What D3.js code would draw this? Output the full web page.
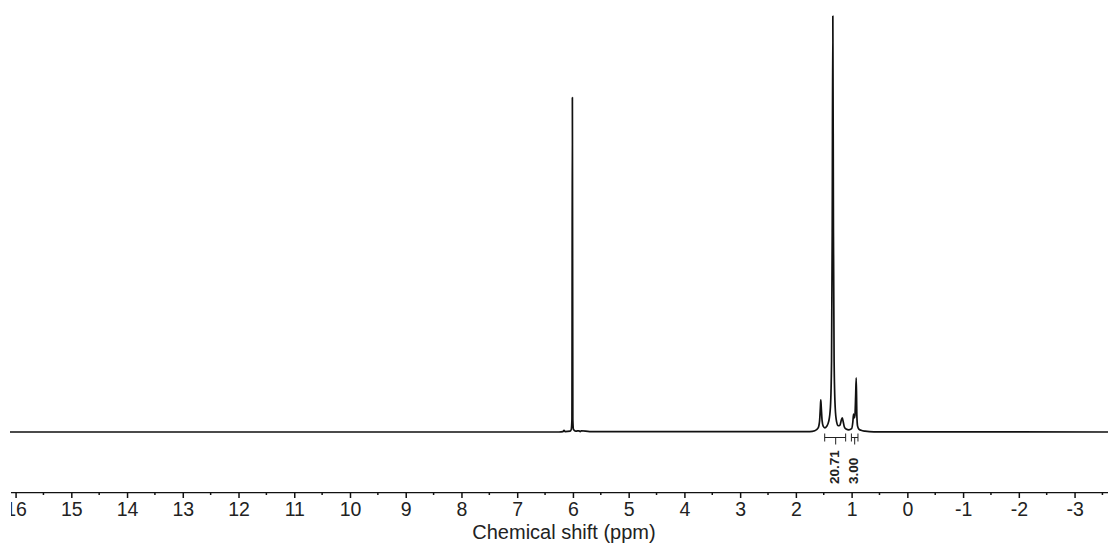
<!DOCTYPE html>
<html>
<head>
<meta charset="utf-8">
<script src="https://cdn.jsdelivr.net/npm/d3@7"></script>
<style>
  body { margin: 0; background: #fff; }
  svg { display: block; font-family: Arial, "Liberation Sans", sans-serif; }
</style>
</head>
<body>
<svg id="my-svg" width="1108" height="546"></svg>
<script>
// spectrum trace (ppm, relative intensity)
const shiftPpm = [16.1, 6.25, 6.18, 6.16, 6.14, 6.05, 6.03, 6.018, 6.01, 6.002, 5.99, 5.95, 5.89, 5.87, 5.85, 5.7,
                  1.75, 1.66, 1.6, 1.575, 1.56, 1.553, 1.545, 1.53, 1.51, 1.48, 1.45, 1.41, 1.38, 1.36, 1.348, 1.337,
                  1.326, 1.314, 1.295, 1.27, 1.24, 1.21, 1.19, 1.168, 1.15, 1.13, 1.1, 1.05, 1.0, 0.978, 0.965,
                  0.952, 0.94, 0.928, 0.917, 0.906, 0.893, 0.87, 0.83, 0.76, 0.6, -3.6];
const intensity = [0, 0, 0.1, 0.4, 0.1, 0.2, 0.6, 3, 80.4, 3, 0.6, 0.2, 0.3, 0.1, 0.3, 0.1,
                   0.1, 0.3, 1.0, 2.6, 6.0, 7.7, 6.0, 2.8, 1.4, 1.0, 1.3, 2.6, 6, 17, 48, 100,
                   48, 17, 6, 2.5, 1.5, 1.6, 2.6, 3.4, 2.4, 1.2, 0.7, 0.5, 0.8, 2.4, 4.3,
                   3.4, 4.0, 8.5, 13.0, 4.0, 1.4, 0.7, 0.4, 0.2, 0.05, 0];

// integration regions
const integralFrom  = [1.483, 1.004];
const integralTo    = [1.107, 0.886];
const integralMid   = [1.286, 0.945];
const integralLabel = ["20.71", "3.00"];

const majorTicks = d3.range(16, -4, -1);
const minorTicks = d3.range(15.5, -4, -1);

const svg = d3.select("#my-svg"),
      left = 10, right = 1108,
      baseY = 432, topY = 16, axisY = 492;

const xScale = d3.scaleLinear().domain([16.1, -3.6]).range([left, right]),
      yScale = d3.scaleLinear().domain([0, 100]).range([baseY, topY]);

svg.append("defs").append("clipPath").attr("id", "plot-clip")
    .append("rect").attr("x", left + 1).attr("y", 0).attr("width", right - left).attr("height", 546);

// spectrum
const points = shiftPpm.map((d, i) => [d, intensity[i]]);
svg.append("path")
    .datum(points)
    .attr("fill", "none")
    .attr("stroke", "#111")
    .attr("stroke-width", 1.7)
    .attr("stroke-linejoin", "round")
    .attr("d", d3.line()
        .x(d => xScale(d[0]))
        .y(d => yScale(d[1]))
        .curve(d3.curveMonotoneX));

// integrals
const integ = svg.append("g").attr("class", "integrals")
    .attr("stroke", "#222").attr("stroke-width", 1);
const bracketY = 437.5;
integralFrom.forEach((f, i) => {
    const x0 = xScale(f), x1 = xScale(integralTo[i]), xm = xScale(integralMid[i]);
    integ.append("line").attr("x1", x0).attr("x2", x1).attr("y1", bracketY).attr("y2", bracketY);
    integ.append("line").attr("x1", x0).attr("x2", x0).attr("y1", bracketY - 4).attr("y2", bracketY + 4);
    integ.append("line").attr("x1", x1).attr("x2", x1).attr("y1", bracketY - 4).attr("y2", bracketY + 4);
    integ.append("line").attr("x1", xm).attr("x2", xm).attr("y1", bracketY).attr("y2", bracketY + 7);
    svg.append("text")
        .attr("transform", `translate(${xm - 1.5}, 484) rotate(-90)`)
        .attr("dy", "0.36em")
        .style("font-size", "13.5px")
        .style("font-weight", "bold")
        .style("fill", "#222")
        .text(integralLabel[i]);
});

// x axis
const axis = svg.append("g")
    .attr("class", "axis x")
    .attr("clip-path", "url(#plot-clip)")
    .attr("transform", `translate(0, ${axisY})`)
    .call(d3.axisBottom(xScale)
        .tickValues(majorTicks)
        .tickFormat(d => String(d))
        .tickSize(6)
        .tickSizeOuter(0)
        .tickPadding(4));
axis.select(".domain").attr("stroke", "#111").attr("stroke-width", 1.6);
axis.selectAll(".tick line").attr("stroke", "#111").attr("stroke-width", 1.5);
axis.selectAll(".tick text").style("font-size", "19.5px").style("fill", "#222")
    .style("font-family", "Arial, 'Liberation Sans', sans-serif");

axis.selectAll(".minor")
    .data(minorTicks)
    .join("line")
    .attr("class", "minor")
    .attr("x1", d => xScale(d)).attr("x2", d => xScale(d))
    .attr("y1", 0).attr("y2", 3)
    .attr("stroke", "#111").attr("stroke-width", 1.5);

svg.append("text")
    .attr("x", 564)
    .attr("y", 539)
    .attr("text-anchor", "middle")
    .style("font-size", "20px")
    .style("fill", "#222")
    .text("Chemical shift (ppm)");
</script>
</body>
</html>
